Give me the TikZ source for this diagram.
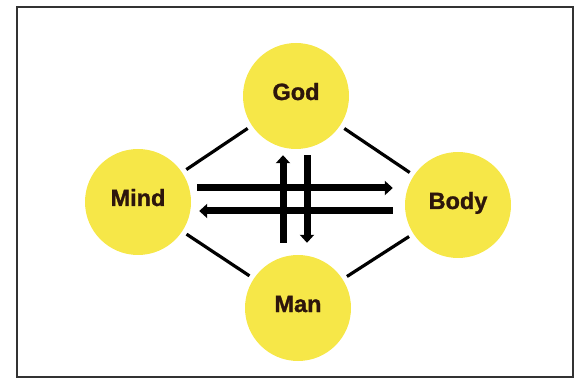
\documentclass[tikz,border=0pt]{standalone}
\usepackage{fontspec}
\setmainfont{Liberation Sans}[BoldFeatures={FakeBold=1.2}]
\usetikzlibrary{arrows.meta,calc}

\definecolor{sunyellow}{RGB}{246,231,72}
\definecolor{inkbrown}{RGB}{45,22,12}

\begin{document}
\begin{tikzpicture}[x=1pt,y=-1pt]
        \tikzset{VertexStyle/.style={circle, fill=sunyellow, minimum size=106pt,
            inner sep=0pt, text height=16pt, text depth=8pt, text=inkbrown,
            font=\fontsize{23.5}{27}\selectfont\bfseries}}
        \tikzset{EdgeStyle/.style={line width=3.2pt, shorten <=5pt, shorten >=5pt}}
        \tikzset{FlowStyle/.style={line width=7pt, -{Triangle[width=14pt,length=8pt]}}}
        \useasboundingbox (0,0) rectangle (586,379);
        \draw[line width=1.5pt, black!80] (17,7) rectangle (573,377);
        \node[VertexStyle] (God) at (296,96) {God};
        \node[VertexStyle] (Mind) at (138,202) {Mind};
        \node[VertexStyle] (Body) at (458,205) {Body};
        \node[VertexStyle] (Man) at (298,308) {Man};
        \draw[EdgeStyle] (Mind) -- (God);
        \draw[EdgeStyle] (God) -- (Body);
        \draw[EdgeStyle] (Mind) -- (Man);
        \draw[EdgeStyle] (Man) -- (Body);
        \draw[FlowStyle] ($(Mind.east)+(6,-14)$) -- ($(Body.west)+(-12,-17)$);
        \draw[FlowStyle] ($(Body.west)+(-12,6)$) -- ($(Mind.east)+(8,9)$);
        \draw[FlowStyle] ($(Man.north)+(-15,-12)$) -- ($(God.south)+(-13,6)$);
        \draw[FlowStyle] ($(God.south)+(11,6)$) -- ($(Man.north)+(9,-12)$);
    \end{tikzpicture}
\end{document}
